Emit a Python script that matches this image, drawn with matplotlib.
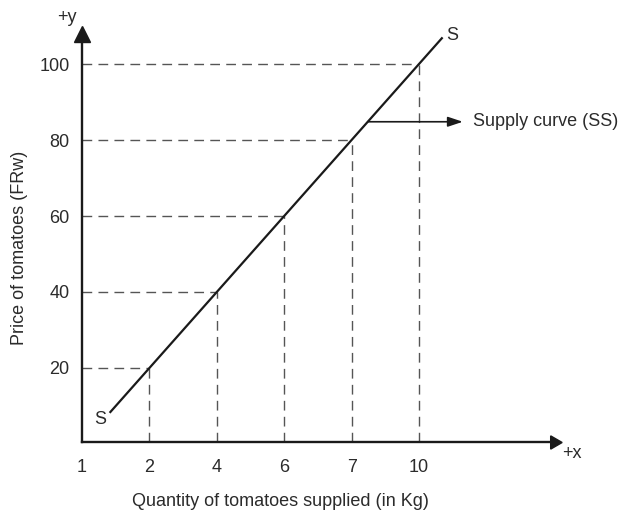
import matplotlib
matplotlib.use("Agg")
import matplotlib.pyplot as plt

# Quantity supplied (kg) and matching prices (FRw) along the supply curve
quantities = ["2", "4", "6", "7", "10"]
prices = [20, 40, 60, 80, 100]
x_tick_labels = ["1", "2", "4", "6", "7", "10"]
y_ticks = [20, 40, 60, 80, 100]

# Supply line endpoints (category index, price)
line_start = (0.41, 8.2)
line_end = (5.35, 107.0)

W, H = 624, 511
FS = 13
fig = plt.figure(figsize=(W / 100, H / 100), dpi=100)
plt.rcParams["font.family"] = ["Liberation Sans", "DejaVu Sans"]

# Axes box: origin at pixel (82, 442); arrow heads sit just past the box
left, right, bottom, top = 82, 554, 442, 34
ax = fig.add_axes([left / W, 1 - bottom / H, (right - left) / W, (bottom - top) / H])

px_per_cat = 67.4
px_per_unit = 3.8
xmax = (right - left) / px_per_cat
y0 = 2 / px_per_unit
ymax = y0 + (bottom - top) / px_per_unit
ax.set_xlim(0, xmax)
ax.set_ylim(y0, ymax)

text_color = "#2b2b2b"
dash_color = "#555555"

for s in ["top", "right"]:
    ax.spines[s].set_visible(False)
for s in ["left", "bottom"]:
    ax.spines[s].set_linewidth(1.7)
    ax.spines[s].set_color("#1a1a1a")

# Arrow heads on the axes
ax.plot(1, 0, marker=(3, 0, -90), markersize=11, color="#1a1a1a",
        transform=ax.transAxes, clip_on=False)
ax.plot(0, 1, marker="^", markersize=11, color="#1a1a1a",
        transform=ax.transAxes, clip_on=False)

positions = list(range(len(x_tick_labels)))
ax.set_xticks(positions, x_tick_labels)
ax.set_yticks(y_ticks, [str(v) for v in y_ticks])
ax.tick_params(axis="both", length=0, labelsize=FS, labelcolor=text_color)
ax.tick_params(axis="x", pad=12)
ax.tick_params(axis="y", pad=9)

# Dashed guides from each axis to the curve
for i, p in enumerate(prices, start=1):
    ax.plot([0, i], [p, p], linestyle=(0, (7, 4.5)), color=dash_color, lw=1.0)
    ax.plot([i, i], [y0, p], linestyle=(0, (7, 4.5)), color=dash_color, lw=1.0)

# Supply curve
ax.plot([line_start[0], line_end[0]], [line_start[1], line_end[1]],
        color="#1a1a1a", lw=1.6, solid_capstyle="butt")
ax.text(line_end[0] + 0.05, line_end[1] + 0.5, "S", fontsize=FS,
        color=text_color, ha="left", va="center")
ax.text(line_start[0] - 0.05, line_start[1] - 1.8, "S", fontsize=FS,
        color=text_color, ha="right", va="center")

# Callout arrow naming the curve
call_y = 84.8
call_x = call_y / 20
ax.annotate("", xy=(5.65, call_y), xytext=(call_x, call_y),
            arrowprops=dict(arrowstyle="-|>,head_length=0.9,head_width=0.3",
                            color="#1a1a1a", lw=1.2, shrinkA=0, shrinkB=0))
ax.text(5.8, call_y, "Supply curve (SS)", fontsize=FS, color=text_color,
        ha="left", va="center")

# Axis end labels
fig.text(67 / W, 1 - 17 / H, "+y", fontsize=FS, color=text_color,
         ha="center", va="center")
fig.text(572 / W, 1 - 454 / H, "+x", fontsize=FS, color=text_color,
         ha="center", va="center")

# Axis titles
fig.text(280 / W, 1 - 501 / H, "Quantity of tomatoes supplied (in Kg)",
         fontsize=FS, color=text_color, ha="center", va="center")
fig.text(20 / W, 1 - 248 / H, "Price of tomatoes (FRw)", fontsize=FS,
         color=text_color, ha="center", va="center", rotation=90)

fig.savefig("out.png", dpi=100)
